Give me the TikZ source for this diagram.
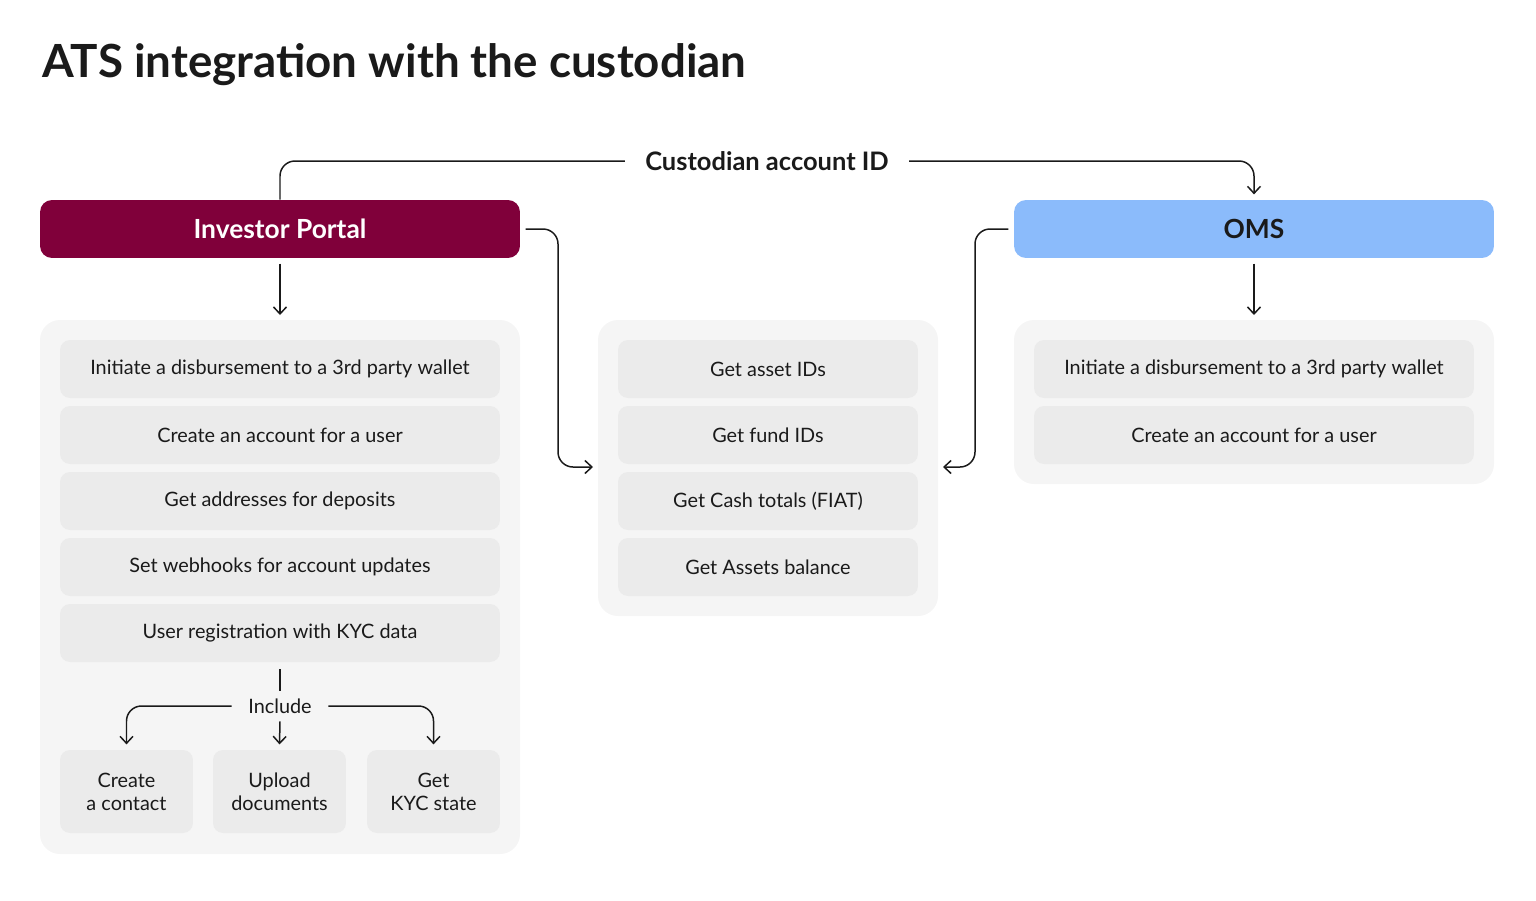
\documentclass[tikz,border=0pt]{standalone}
\usepackage{fontspec}
\setmainfont{Lato}
\usetikzlibrary{positioning, arrows.meta}
\definecolor{portal}{HTML}{80003A}
\definecolor{oms}{HTML}{8BBBFB}
\definecolor{panel}{HTML}{F5F5F5}
\definecolor{item}{HTML}{EBEBEB}
\definecolor{ink}{HTML}{1A1A1A}
\tikzset{
  panelbox/.style={fill=panel, rounded corners=0.4cm},
  itembox/.style={fill=item, rounded corners=0.2cm, minimum height=1.16cm, text=ink, font=\fontsize{11.3}{13}\selectfont, inner sep=0pt},
  headbox/.style={rounded corners=0.24cm, minimum width=9.6cm, minimum height=1.16cm, font=\bfseries\fontsize{15}{18}\selectfont, inner sep=0pt},
  link/.style={draw=ink, line width=0.85pt, rounded corners=0.3cm},
  arr/.style={link, -{Straight Barb[length=1.4mm, width=2.6mm]}}
}
\begin{document}
\begin{tikzpicture}[x=0.02cm, y=-0.02cm]
\useasboundingbox (0,0) rectangle (1536,900);
% title
\node[anchor=west, text=ink, font=\bfseries\fontsize{26}{32}\selectfont] (title) at (36,65) {ATS integration with the custodian};
% headers
\node[headbox, fill=portal, text=white] (portal) at (280,229) {Investor Portal};
\node[headbox, fill=oms, text=ink] (oms) at (1254,229) {OMS};
\node[text=ink, font=\bfseries\fontsize{14.5}{17}\selectfont] (custid) at (767,161) {Custodian account ID};
% panels
\fill[panelbox] (40,320) rectangle (520,854);
\fill[panelbox] (598,320) rectangle (938,616);
\fill[panelbox] (1014,320) rectangle (1494,484);
\coordinate (leftin) at (280,315);
\coordinate (rightin) at (1254,315);
\coordinate (midl) at (593,467);
\coordinate (midr) at (943,467);
% left items
\foreach \t [count=\i] in {Initiate a disbursement to a 3rd party wallet, Create an account for a user, Get addresses for deposits, Set webhooks for account updates, User registration with KYC data}
  \node[itembox, minimum width=8.8cm] (l\i) at (280,{303+66*\i}) {\t};
% middle items
\foreach \t [count=\i] in {Get asset IDs, Get fund IDs, Get Cash totals (FIAT), Get Assets balance}
  \node[itembox, minimum width=6cm] (m\i) at (768,{303+66*\i}) {\t};
% right items
\foreach \t [count=\i] in {Initiate a disbursement to a 3rd party wallet, Create an account for a user}
  \node[itembox, minimum width=8.8cm] (r\i) at (1254,{303+66*\i}) {\t};
% include
\node[text=ink, font=\fontsize{11.3}{13}\selectfont] (incl) at (280,706) {Include};
\node[itembox, minimum width=2.66cm, minimum height=1.66cm, align=center] (c1) at (126.5,791.5) {Create\\a contact};
\node[itembox, minimum width=2.66cm, minimum height=1.66cm, align=center] (c2) at (279.5,791.5) {Upload\\documents};
\node[itembox, minimum width=2.66cm, minimum height=1.66cm, align=center] (c3) at (433.5,791.5) {Get\\KYC state};
% connectors
\draw[link] (portal.north) |- ([xshift=-8pt]custid.west);
\draw[arr] ([xshift=8pt]custid.east) -| ([yshift=3pt]oms.north);
\draw[arr] ([yshift=-3pt]portal.south) -- (leftin);
\draw[arr] ([yshift=-3pt]oms.south) -- (rightin);
\draw[arr] ([xshift=3pt]portal.east) -| (558,467) -- (midl);
\draw[arr] ([xshift=-3pt]oms.west) -| (975,467) -- (midr);
\draw[link] ([yshift=-4pt]l5.south) -- ([yshift=1pt]incl.north);
\draw[arr] ([xshift=-6pt]incl.west) -| ([yshift=3pt]c1.north);
\draw[arr] ([yshift=-1pt]incl.south) -- ([yshift=3pt]c2.north);
\draw[arr] ([xshift=6pt]incl.east) -| ([yshift=3pt]c3.north);
\end{tikzpicture}
\end{document}
